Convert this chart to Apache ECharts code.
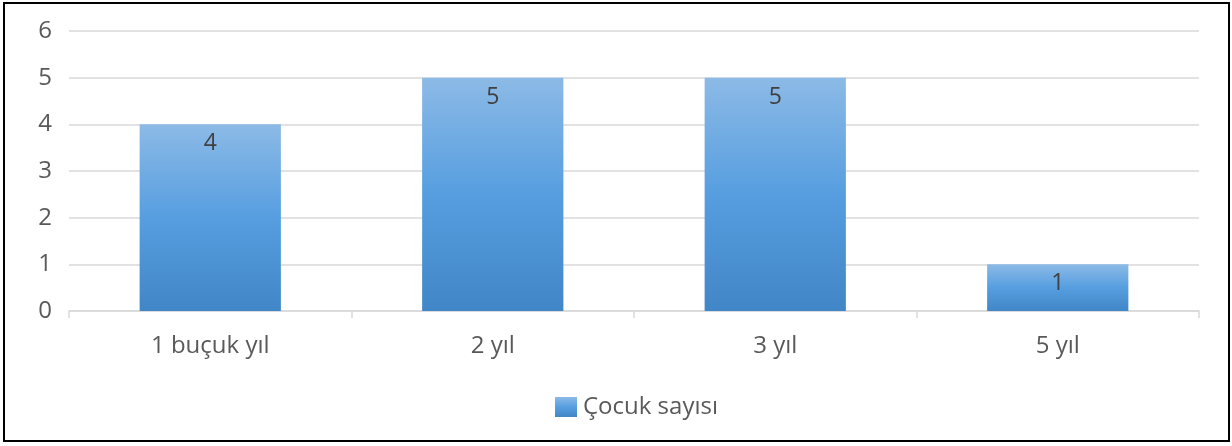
<!DOCTYPE html>
<html>
<head>
<meta charset="utf-8">
<script src="https://cdn.jsdelivr.net/npm/echarts@6/dist/echarts.min.js"></script>
<style>
html,body{margin:0;padding:0;background:#fff;}
#c{width:1232px;height:446px;}
</style>
</head>
<body>
<div id="c"></div>
<script>
const categories = ['1 buçuk yıl', '2 yıl', '3 yıl', '5 yıl'];
const seriesName = 'Çocuk sayısı';
const values = [4, 5, 5, 1];
const yTicks = { min: 0, max: 6, interval: 1 };

const chart = echarts.init(document.getElementById('c'));
const font = '"Open Sans", "DejaVu Sans", sans-serif';
chart.setOption({
  animation: false,
  backgroundColor: '#fff',
  graphic: [{
    type: 'rect',
    shape: { x: 4, y: 3, width: 1225, height: 438 },
    style: { fill: 'none', stroke: '#000', lineWidth: 2 },
    silent: true
  }],
  grid: { left: 69, right: 33, top: 31, bottom: 135, containLabel: false },
  legend: {
    data: [seriesName],
    left: 550,
    top: 390,
    itemWidth: 22,
    itemHeight: 20,
    itemGap: 6,
    icon: 'rect',
    textStyle: { color: '#595959', fontSize: 24, fontFamily: font, padding: [0, 0, 0, 1] }
  },
  xAxis: {
    type: 'category',
    data: categories,
    axisLine: { lineStyle: { color: '#d9d9d9', width: 1.5 } },
    axisTick: { show: true, length: 7, lineStyle: { color: '#d9d9d9', width: 1.5 } },
    axisLabel: { color: '#595959', fontSize: 24, fontFamily: font, margin: 23 },
    splitLine: { show: false }
  },
  yAxis: {
    type: 'value',
    min: yTicks.min, max: yTicks.max, interval: yTicks.interval,
    axisLine: { show: false },
    axisTick: { show: false },
    axisLabel: { color: '#595959', fontSize: 24, fontFamily: font, margin: 17 },
    splitLine: { lineStyle: { color: '#d9d9d9', width: 1.5 } }
  },
  series: [{
    name: seriesName,
    type: 'bar',
    data: values,
    barCategoryGap: '50%',
    itemStyle: {
      color: new echarts.graphic.LinearGradient(0, 0, 0, 1, [
        { offset: 0, color: '#8cbae6' },
        { offset: 0.5, color: '#569ee0' },
        { offset: 1, color: '#4186c7' }
      ])
    },
    label: {
      show: true,
      position: 'insideTop',
      distance: 8,
      color: '#404040',
      fontSize: 23,
      fontFamily: font
    }
  }]
});
</script>
</body>
</html>
